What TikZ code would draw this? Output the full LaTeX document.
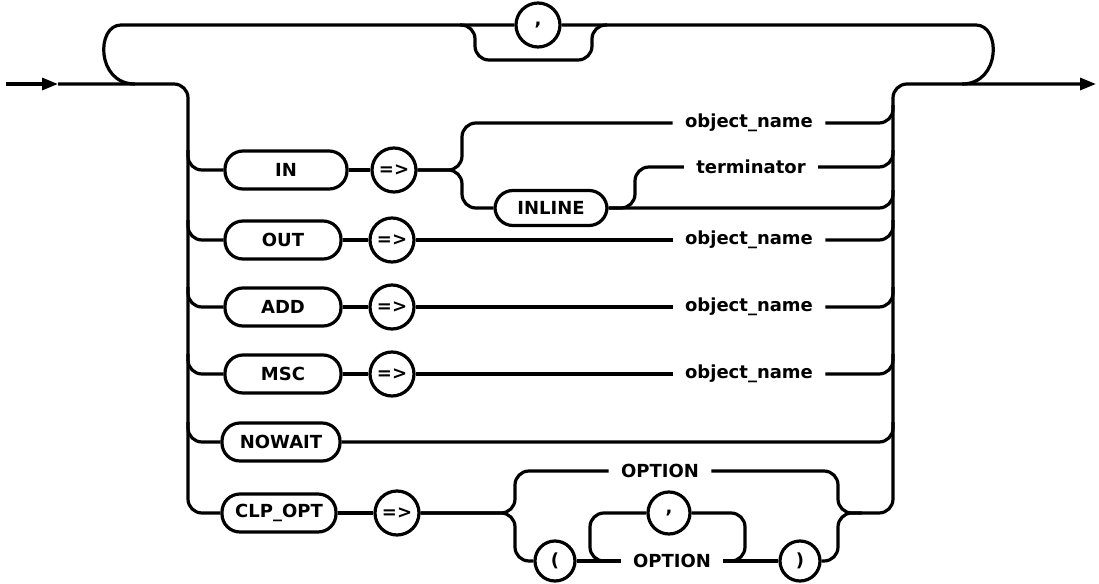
\documentclass[tikz,border=0pt]{standalone}
\usepackage{fontspec}
\setmainfont{DejaVu Sans}
\usetikzlibrary{arrows.meta}
\tikzset{
	rail/.style={line width=1.6pt, rounded corners=7pt},
	railtip/.style={-{Triangle[length=8pt,width=6pt]}},
	kwbox/.style={draw, line width=1.6pt, rectangle, rounded corners=9pt, minimum height=19pt, minimum width=58pt, inner xsep=4pt},
	opcircle/.style={draw, line width=1.6pt, circle, minimum size=22pt, inner sep=0pt},
	argtext/.style={inner xsep=6pt}
}
\begin{document}
\begin{tikzpicture}[x=0.5pt, y=-0.5pt, font=\fontsize{9}{11}\selectfont\bfseries]
	\useasboundingbox (0,0) rectangle (1099,584);

	\coordinate (start) at (6,84);
	\coordinate (inTip) at (58,84);
	\coordinate (loopL) at (135,84);
	\coordinate (loopR) at (962,84);
	\coordinate (finish) at (1096,84);

	% repeat loop over the top
	\node[opcircle] (sepTop) at (538,25) {,};
	\draw[rail] (loopL) .. controls (96,84) and (96,25) .. (135,25) -- (sepTop.west);
	\draw[rail] (sepTop.east) -- (962,25) .. controls (1001,25) and (1001,84) .. (loopR);
	\draw[rail] (460,25) -- (475,25) -- (475,60) -- (592,60) -- (592,25) -- (607,25);

	% entry and left bus
	\draw[line width=1.6pt, railtip] (start) -- (inTip);

	% IN row
	\node[kwbox, minimum width=61pt] (kwIn) at (286,170) {IN};
	\node[opcircle] (arrIn) at (394,170) {=>};
	\node[argtext] (nameIn) at (749,123) {object\_name};
	\node[kwbox, minimum width=56pt, minimum height=17.5pt] (kwInline) at (551,208) {INLINE};
	\node[argtext] (termIn) at (751,167) {terminator};
	\draw[rail] (188,150) -- (188,170) -- (kwIn.west);
	\draw[rail] (kwIn.east) -- (arrIn.west);
	\draw[rail] (arrIn.east) -- (462,170) -- (462,123) -- (nameIn.west);
	\draw[rail] (arrIn.east) -- (462,170) -- (462,208) -- (kwInline.west);
	\draw[rail] (nameIn.east) -- (893,123) -- (893,105);
	\draw[rail] (kwInline.east) -- (635,208) -- (635,167) -- (termIn.west);
	\draw[rail] (termIn.east) -- (893,167) -- (893,150);
	\draw[rail] (kwInline.east) -- (893,208) -- (893,190);

	% OUT, ADD and MSC rows
	\foreach \kw/\yy/\nm in {OUT/240/Out, ADD/307/Add, MSC/374/Msc} {
		\node[kwbox] (kw\nm) at (283,\yy) {\kw};
		\node[opcircle] (arr\nm) at (392,\yy) {=>};
		\node[argtext] (name\nm) at (749,\yy) {object\_name};
		\draw[rail] (188,\yy-20) -- (188,\yy) -- (kw\nm.west);
		\draw[rail] (kw\nm.east) -- (arr\nm.west);
		\draw[rail] (arr\nm.east) -- (name\nm.west);
		\draw[rail] (name\nm.east) -- (893,\yy) -- (893,\yy-20);
	}

	% NOWAIT row
	\node[kwbox, minimum width=59pt] (kwNowait) at (281,442) {NOWAIT};
	\draw[rail] (188,422) -- (188,442) -- (kwNowait.west);
	\draw[rail] (kwNowait.east) -- (893,442) -- (893,422);

	% CLP_OPT row
	\node[kwbox, minimum width=57pt] (kwClp) at (279,513) {CLP\_OPT};
	\node[opcircle] (arrClp) at (397,513) {=>};
	\node[argtext] (optA) at (660,471) {OPTION};
	\node[opcircle, minimum size=20pt] (lpar) at (555,561) {(};
	\node[argtext] (optB) at (672,561) {OPTION};
	\node[opcircle, minimum size=20pt] (rpar) at (800,561) {)};
	\node[opcircle, minimum size=21pt] (sepOpt) at (669,513) {,};
	\coordinate (braceR) at (862,513);
	\draw[rail] (inTip) -- (188,84) -- (188,513) -- (kwClp.west);
	\draw[rail] (kwClp.east) -- (arrClp.west);
	\draw[rail] (arrClp.east) -- (515,513) -- (515,471) -- (optA.west);
	\draw[rail] (arrClp.east) -- (515,513) -- (515,561) -- (lpar.west);
	\draw[rail] (lpar.east) -- (optB.west);
	\draw[rail] (optB.east) -- (rpar.west);
	\draw[rail] (sepOpt.west) -- (590,513) -- (590,561) -- (optB.west);
	\draw[rail] (optB.east) -- (745,561) -- (745,513) -- (sepOpt.east);
	\draw[rail] (rpar.east) -- (838,561) -- (838,513) -- (braceR);

	% right bus and exit
	\draw[rail, railtip] (optA.east) -- (838,471) -- (838,513) -- (893,513) -- (893,84) -- (finish);
\end{tikzpicture}
\end{document}
